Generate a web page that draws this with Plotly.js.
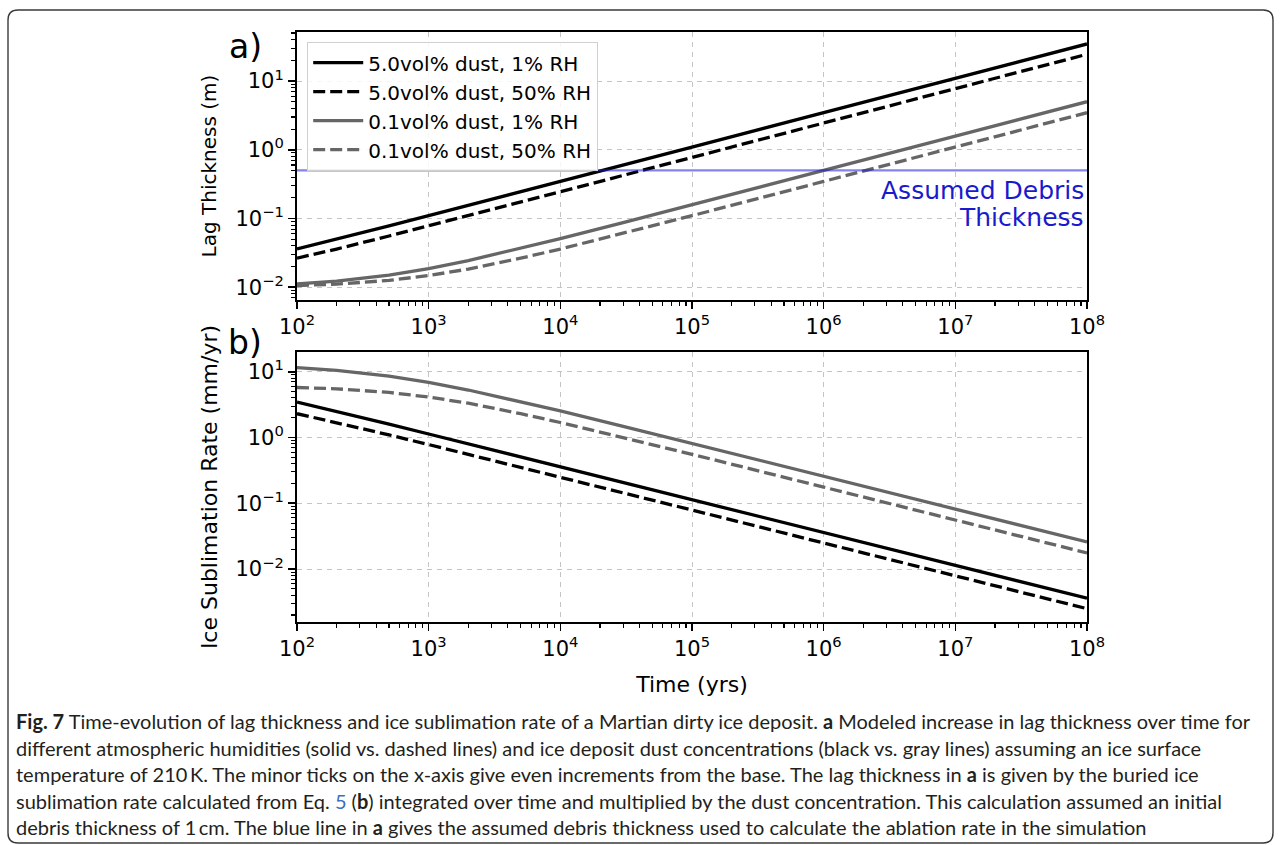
<!DOCTYPE html>
<html>
<head>
<meta charset="utf-8">
<script src="https://cdn.plot.ly/plotly-3.0.1.min.js"></script>
<style>
  html, body { margin: 0; padding: 0; background: #ffffff; }
  #fig { width: 1281px; height: 845px; }
</style>
</head>
<body>
<div id="fig"></div>
<script>
// Model time steps (years)
const timeYrs = [1e2, 2e2, 5e2, 1e3, 2e3, 5e3, 1e4, 3e4, 1e5, 1e6, 1e7, 1e8];

// a) Lag thickness (m)
const lagDust50Rh1  = [0.0361, 0.050, 0.078, 0.110, 0.155, 0.245, 0.347, 0.600, 1.095, 3.46, 10.95, 34.6];
const lagDust50Rh50 = [0.0265, 0.036, 0.0557, 0.078, 0.110, 0.1735, 0.245, 0.424, 0.775, 2.45, 7.75, 24.5];
const lagDust01Rh1  = [0.0112, 0.01225, 0.0150, 0.0187, 0.0245, 0.0367, 0.051, 0.0872, 0.158, 0.500, 1.58, 5.00];
const lagDust01Rh50 = [0.0106, 0.0111, 0.0126, 0.0148, 0.0184, 0.0265, 0.036, 0.0608, 0.110, 0.3466, 1.095, 3.46];

// b) Ice sublimation rate (mm/yr)
const rateDust50Rh1  = [3.46, 2.50, 1.60, 1.13, 0.80, 0.51, 0.36, 0.208, 0.114, 0.036, 0.0114, 0.0036];
const rateDust50Rh50 = [2.30, 1.69, 1.095, 0.78, 0.555, 0.352, 0.249, 0.144, 0.079, 0.0249, 0.0079, 0.0025];
const rateDust01Rh1  = [11.5, 10.5, 8.6, 6.9, 5.27, 3.51, 2.53, 1.48, 0.816, 0.258, 0.0816, 0.0258];
const rateDust01Rh50 = [5.75, 5.5, 4.84, 4.12, 3.32, 2.30, 1.69, 1.00, 0.555, 0.176, 0.0557, 0.0176];

// Assumed debris thickness (m)
const debrisThickness = 0.5;
const timeSpan = [1e2, 1e8];

// Series names
const seriesNames = ["5.0vol% dust, 1% RH", "5.0vol% dust, 50% RH", "0.1vol% dust, 1% RH", "0.1vol% dust, 50% RH"];

// Tick positions and labels
const xTickVals = [1e2, 1e3, 1e4, 1e5, 1e6, 1e7, 1e8];
const xTickText = ["10<sup>2</sup>", "10<sup>3</sup>", "10<sup>4</sup>", "10<sup>5</sup>", "10<sup>6</sup>", "10<sup>7</sup>", "10<sup>8</sup>"];
const yTickVals = [1e-2, 1e-1, 1e0, 1e1];
const yTickText = ["10<sup>\u22122</sup>", "10<sup>\u22121</sup>", "10<sup>0</sup>", "10<sup>1</sup>"];

// Caption lines
const captionLines = [
  "<b>Fig. 7</b> Time-evolution of lag thickness and ice sublimation rate of a Martian dirty ice deposit. <b>a</b> Modeled increase in lag thickness over time for",
  "different atmospheric humidities (solid vs. dashed lines) and ice deposit dust concentrations (black vs. gray lines) assuming an ice surface",
  "temperature of 210\u2009K. The minor ticks on the x-axis give even increments from the base. The lag thickness in <b>a</b> is given by the buried ice",
  "sublimation rate calculated from Eq. <span style=\"color:#3a6fc4\">5</span> (<b>b</b>) integrated over time and multiplied by the dust concentration. This calculation assumed an initial",
  "debris thickness of 1\u2009cm. The blue line in <b>a</b> gives the assumed debris thickness used to calculate the ablation rate in the simulation"
];

const W = 1281, H = 845;
const px = x => x / W;
const py = y => 1 - y / H;

const styles = [
  {color: "#000000", dash: "solid"},
  {color: "#000000", dash: "12px,5px"},
  {color: "#666666", dash: "solid"},
  {color: "#666666", dash: "12px,5px"}
];
const lagSeries = [lagDust50Rh1, lagDust50Rh50, lagDust01Rh1, lagDust01Rh50];
const rateSeries = [rateDust50Rh1, rateDust50Rh50, rateDust01Rh1, rateDust01Rh50];

const traces = [];
lagSeries.forEach((ys, i) => {
  traces.push({
    x: timeYrs, y: ys, xaxis: "x", yaxis: "y", type: "scatter", mode: "lines",
    name: seriesNames[i],
    line: {color: styles[i].color, dash: styles[i].dash, width: 3.3},
    hoverinfo: "skip"
  });
});
traces.push({
  x: timeSpan, y: [debrisThickness, debrisThickness], xaxis: "x", yaxis: "y",
  type: "scatter", mode: "lines", showlegend: false,
  line: {color: "rgba(30,30,215,0.55)", width: 2.2}, hoverinfo: "skip"
});
rateSeries.forEach((ys, i) => {
  traces.push({
    x: timeYrs, y: ys, xaxis: "x2", yaxis: "y2", type: "scatter", mode: "lines",
    name: seriesNames[i], showlegend: false,
    line: {color: styles[i].color, dash: styles[i].dash, width: 3.3},
    hoverinfo: "skip"
  });
});

const tickFont = {family: "DejaVu Sans", size: 21, color: "#000000"};

function xAxis(anchor, titleText) {
  const ax = {
    type: "log", range: [2, 8], domain: [px(297), px(1087)], anchor: anchor,
    tickmode: "array", tickvals: xTickVals, ticktext: xTickText,
    ticks: "outside", ticklen: 7, tickwidth: 1.6, tickcolor: "#000000",
    minor: {ticks: "outside", ticklen: 4, tickwidth: 1.1, tickcolor: "#000000", dtick: "D1", showgrid: false},
    showgrid: true, gridcolor: "#c4c4c4", gridwidth: 1, griddash: "5px,5px",
    showline: true, linecolor: "#000000", linewidth: 2, mirror: true,
    zeroline: false, tickfont: tickFont, automargin: false
  };
  if (titleText) ax.title = {text: titleText, font: {family: "DejaVu Sans", size: 22, color: "#000000"}, standoff: 17};
  return ax;
}
function yAxis(anchor, domain, range, titleText, titleSize, standoff) {
  return {
    type: "log", range: range, domain: domain, anchor: anchor,
    tickmode: "array", tickvals: yTickVals, ticktext: yTickText,
    ticks: "outside", ticklen: 7, tickwidth: 1.6, tickcolor: "#000000",
    minor: {ticks: "outside", ticklen: 4, tickwidth: 1.1, tickcolor: "#000000", dtick: "D1", showgrid: false},
    showgrid: true, gridcolor: "#c4c4c4", gridwidth: 1, griddash: "5px,5px",
    showline: true, linecolor: "#000000", linewidth: 2, mirror: true,
    zeroline: false, tickfont: tickFont, automargin: false,
    title: {text: titleText, font: {family: "DejaVu Sans", size: titleSize, color: "#000000"}, standoff: standoff}
  };
}

const annotations = [
  {xref: "paper", yref: "paper", x: px(245), y: py(46), text: "a)", showarrow: false,
   xanchor: "center", yanchor: "middle", font: {family: "DejaVu Sans", size: 33, color: "#000000"}},
  {xref: "paper", yref: "paper", x: px(245), y: py(343), text: "b)", showarrow: false,
   xanchor: "center", yanchor: "middle", font: {family: "DejaVu Sans", size: 33, color: "#000000"}},
  {xref: "paper", yref: "paper", x: px(1086), y: py(190), text: "Assumed Debris", showarrow: false,
   xanchor: "right", yanchor: "middle", align: "right",
   font: {family: "DejaVu Sans", size: 25, color: "#1a1acd"}},
  {xref: "paper", yref: "paper", x: px(1086), y: py(217), text: "Thickness", showarrow: false,
   xanchor: "right", yanchor: "middle", align: "right",
   font: {family: "DejaVu Sans", size: 25, color: "#1a1acd"}}
];
const captionTop = 721, captionStep = 26.6;
captionLines.forEach((t, i) => {
  annotations.push({
    xref: "paper", yref: "paper", x: px(14), y: py(captionTop + i * captionStep), text: t,
    showarrow: false, xanchor: "left", yanchor: "middle", align: "left",
    font: {family: "Lato", size: 20, color: "#231f20"}
  });
});

const layout = {
  width: W, height: H,
  margin: {l: 0, r: 0, t: 0, b: 0},
  paper_bgcolor: "#ffffff", plot_bgcolor: "#ffffff",
  showlegend: true,
  legend: {
    x: px(307), y: py(42), xanchor: "left", yanchor: "top",
    bgcolor: "rgba(255,255,255,0.85)", bordercolor: "#d0d0d0", borderwidth: 1.2,
    font: {family: "DejaVu Sans", size: 20, color: "#000000"},
    itemwidth: 50, tracegroupgap: 0
  },
  xaxis: xAxis("y", null),
  yaxis: yAxis("x", [py(300), py(32)], [-2.185, 1.713], "Lag Thickness (m)", 20, 13),
  xaxis2: xAxis("y2", "Time (yrs)"),
  yaxis2: yAxis("x2", [py(621.7), py(352.3)], [-2.80, 1.295], "Ice Sublimation Rate (mm/yr)", 22, 12),
  annotations: annotations,
  shapes: [
    {type: "path", xref: "paper", yref: "paper",
     path: `M ${px(18)},${py(10)} L ${px(1263)},${py(10)} Q ${px(1273)},${py(10)} ${px(1273)},${py(20)} ` +
           `L ${px(1273)},${py(833)} Q ${px(1273)},${py(843)} ${px(1263)},${py(843)} ` +
           `L ${px(18)},${py(843)} Q ${px(8)},${py(843)} ${px(8)},${py(833)} ` +
           `L ${px(8)},${py(20)} Q ${px(8)},${py(10)} ${px(18)},${py(10)} Z`,
     line: {color: "#3a3a3a", width: 1.4}, fillcolor: "rgba(0,0,0,0)", layer: "below"}
  ]
};

Plotly.newPlot("fig", traces, layout, {staticPlot: true, displayModeBar: false});
</script>
</body>
</html>
